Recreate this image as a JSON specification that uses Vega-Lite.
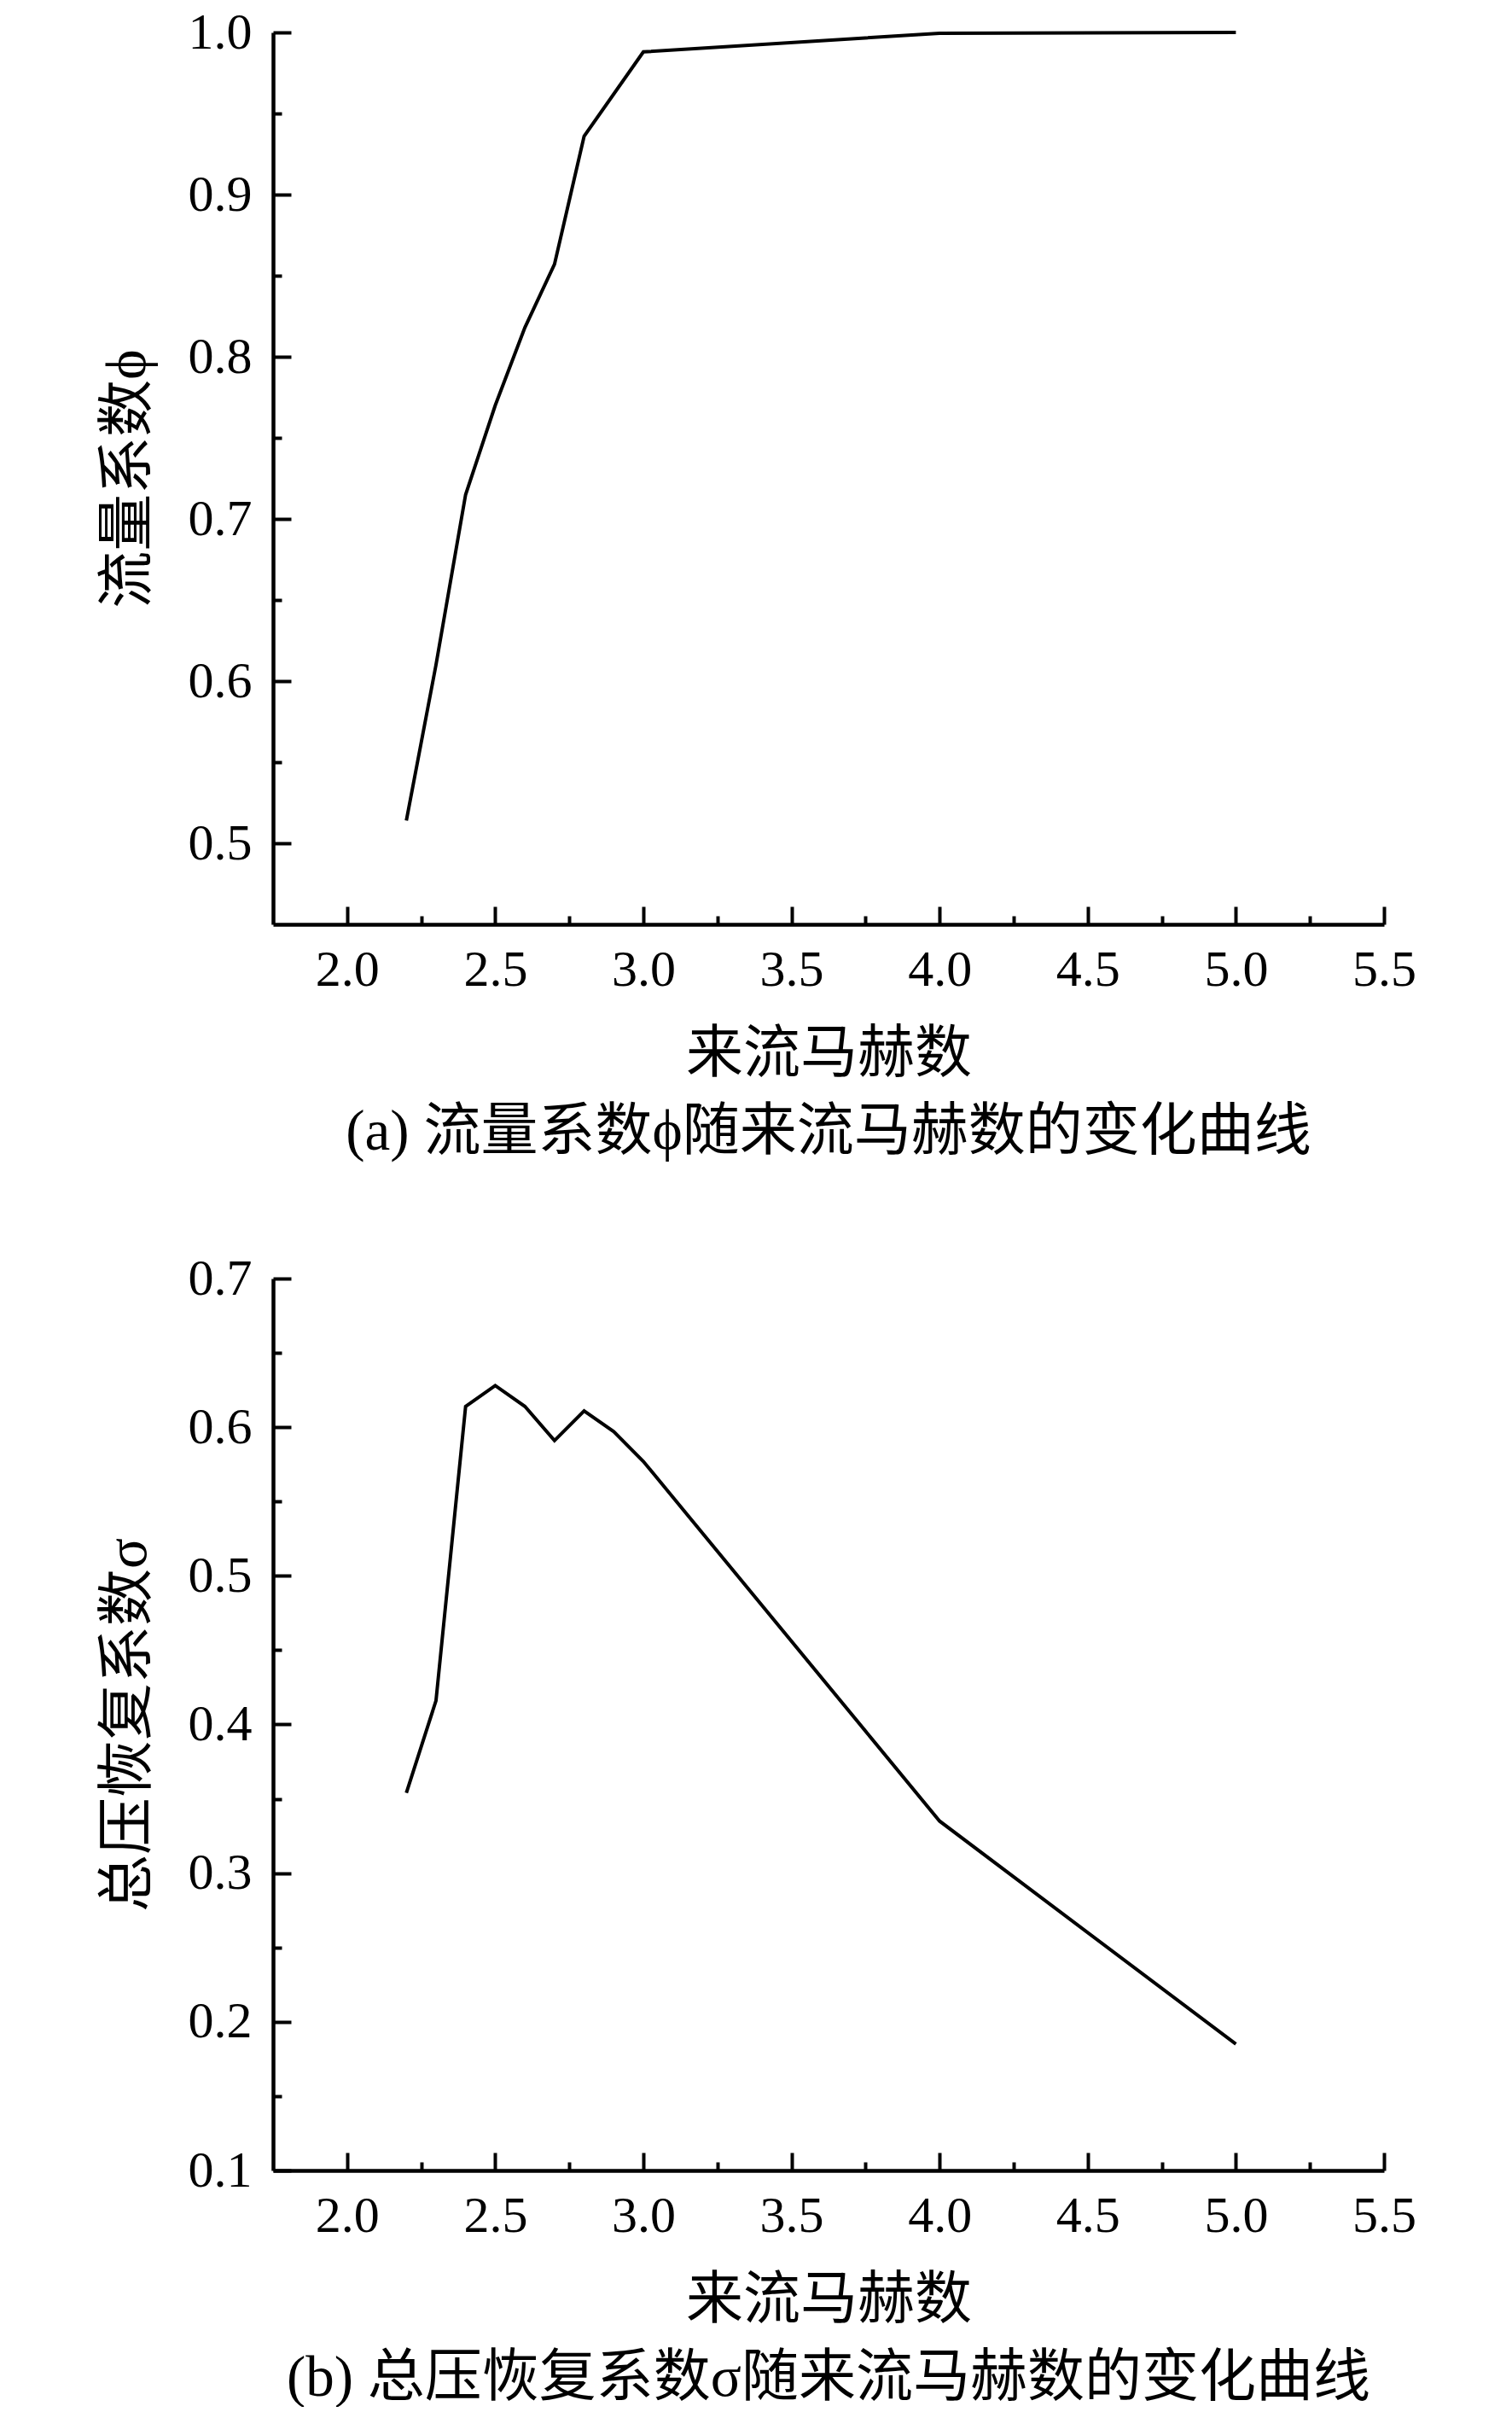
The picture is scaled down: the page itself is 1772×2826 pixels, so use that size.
{
  "$schema": "https://vega.github.io/schema/vega-lite/v6.json",
  "background": "white",
  "padding": {"left": 116, "top": 8, "right": 0, "bottom": 0},
  "spacing": 108,
  "config": {
    "view": {"stroke": null},
    "font": "Liberation Serif, Noto Sans CJK SC",
    "axis": {
      "grid": false,
      "domainColor": "black",
      "domainWidth": 4.5,
      "tickColor": "black",
      "tickWidth": 4,
      "labelFont": "Liberation Serif",
      "labelFontSize": 60,
      "labelColor": "black",
      "titleFont": "Liberation Serif, Noto Sans CJK SC",
      "titleFontSize": 67,
      "titleFontWeight": "normal",
      "titleColor": "black",
      "labelOverlap": false,
      "labelFlush": false
    },
    "title": {"font": "Liberation Serif, Noto Sans CJK SC", "fontSize": 67, "fontWeight": "normal", "color": "black"}
  },
  "vconcat": [
    {
      "width": 1302,
      "height": 1045,
      "title": {"text": "(a) 流量系数ϕ随来流马赫数的变化曲线", "orient": "bottom", "offset": 26},
      "data": {
        "values": [
          {"Ma": 2.2, "phi": 0.514},
          {"Ma": 2.3, "phi": 0.610},
          {"Ma": 2.4, "phi": 0.715},
          {"Ma": 2.5, "phi": 0.770},
          {"Ma": 2.6, "phi": 0.818},
          {"Ma": 2.7, "phi": 0.857},
          {"Ma": 2.8, "phi": 0.936},
          {"Ma": 3.0, "phi": 0.988},
          {"Ma": 4.0, "phi": 0.9995},
          {"Ma": 5.0, "phi": 1.0}
        ]
      },
      "mark": {"type": "line", "color": "black", "strokeWidth": 4},
      "encoding": {
        "x": {
          "field": "Ma",
          "type": "quantitative",
          "scale": {"domain": [1.75, 5.5], "nice": false, "zero": false},
          "axis": {
            "title": "来流马赫数",
            "values": [2, 2.25, 2.5, 2.75, 3, 3.25, 3.5, 3.75, 4, 4.25, 4.5, 4.75, 5, 5.25, 5.5],
            "labelExpr": "abs(datum.value * 2 - round(datum.value * 2)) < 0.001 ? format(datum.value, '.1f') : ''",
            "tickSize": {"condition": {"test": "abs(datum.value * 2 - round(datum.value * 2)) < 0.001", "value": -21}, "value": -10},
            "labelPadding": 45,
            "titlePadding": 25
          }
        },
        "y": {
          "field": "phi",
          "type": "quantitative",
          "scale": {"domain": [0.45, 1.0], "nice": false, "zero": false},
          "axis": {
            "title": "流量系数ϕ",
            "values": [0.5, 0.55, 0.6, 0.65, 0.7, 0.75, 0.8, 0.85, 0.9, 0.95, 1.0],
            "labelExpr": "abs(datum.value * 10 - round(datum.value * 10)) < 0.001 ? format(datum.value, '.1f') : ''",
            "tickSize": {"condition": {"test": "abs(datum.value * 10 - round(datum.value * 10)) < 0.001", "value": -21}, "value": -10},
            "labelPadding": 46,
            "titlePadding": 36
          }
        }
      }
    },
    {
      "width": 1302,
      "height": 1045,
      "title": {"text": "(b) 总压恢复系数σ随来流马赫数的变化曲线", "orient": "bottom", "offset": 26},
      "data": {
        "values": [
          {"Ma": 2.2, "sigma": 0.354},
          {"Ma": 2.3, "sigma": 0.416},
          {"Ma": 2.4, "sigma": 0.614},
          {"Ma": 2.5, "sigma": 0.628},
          {"Ma": 2.6, "sigma": 0.614},
          {"Ma": 2.7, "sigma": 0.591},
          {"Ma": 2.8, "sigma": 0.611},
          {"Ma": 2.9, "sigma": 0.597},
          {"Ma": 3.0, "sigma": 0.577},
          {"Ma": 4.0, "sigma": 0.335},
          {"Ma": 5.0, "sigma": 0.185}
        ]
      },
      "mark": {"type": "line", "color": "black", "strokeWidth": 4},
      "encoding": {
        "x": {
          "field": "Ma",
          "type": "quantitative",
          "scale": {"domain": [1.75, 5.5], "nice": false, "zero": false},
          "axis": {
            "title": "来流马赫数",
            "values": [2, 2.25, 2.5, 2.75, 3, 3.25, 3.5, 3.75, 4, 4.25, 4.5, 4.75, 5, 5.25, 5.5],
            "labelExpr": "abs(datum.value * 2 - round(datum.value * 2)) < 0.001 ? format(datum.value, '.1f') : ''",
            "tickSize": {"condition": {"test": "abs(datum.value * 2 - round(datum.value * 2)) < 0.001", "value": -21}, "value": -10},
            "labelPadding": 45,
            "titlePadding": 25
          }
        },
        "y": {
          "field": "sigma",
          "type": "quantitative",
          "scale": {"domain": [0.1, 0.7], "nice": false, "zero": false},
          "axis": {
            "title": "总压恢复系数σ",
            "values": [0.1, 0.15, 0.2, 0.25, 0.3, 0.35, 0.4, 0.45, 0.5, 0.55, 0.6, 0.65, 0.7],
            "labelExpr": "abs(datum.value * 10 - round(datum.value * 10)) < 0.001 ? format(datum.value, '.1f') : ''",
            "tickSize": {"condition": {"test": "abs(datum.value * 10 - round(datum.value * 10)) < 0.001", "value": -21}, "value": -10},
            "labelPadding": 46,
            "titlePadding": 36
          }
        }
      }
    }
  ]
}
